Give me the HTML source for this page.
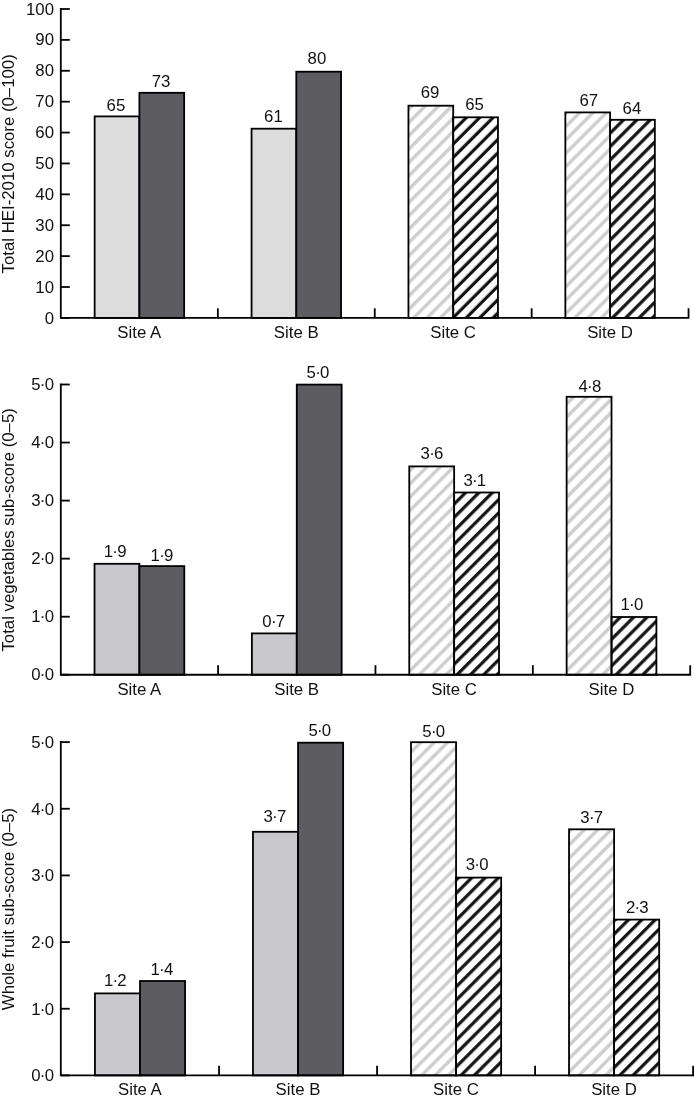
<!DOCTYPE html>
<html><head><meta charset="utf-8"><style>
html,body{margin:0;padding:0;background:#fff;}
body{width:694px;height:1099px;position:relative;overflow:hidden;}
svg text{font-family:"Liberation Sans", sans-serif;font-size:16.8px;fill:#111;}
</style></head><body>
<svg width="694" height="1099" viewBox="0 0 694 1099" style="position:absolute;left:0;top:0;will-change:transform">
<defs>
<pattern id="h0" patternUnits="userSpaceOnUse" width="9.4399" height="9.4399" patternTransform="translate(0.00,0.00) rotate(45)"><rect x="5.795" y="0" width="3.4" height="9.4399" fill="#cdcdcd"/></pattern>
<pattern id="h1" patternUnits="userSpaceOnUse" width="9.4399" height="9.4399" patternTransform="translate(0.00,0.00) rotate(45)"><rect x="5.365" y="0" width="3.2" height="9.4399" fill="#111"/></pattern>
<pattern id="h2" patternUnits="userSpaceOnUse" width="9.4399" height="9.4399" patternTransform="translate(0.00,0.00) rotate(45)"><rect x="6.432" y="0" width="3.4" height="9.4399" fill="#cdcdcd"/><rect x="-3.008" y="0" width="3.4" height="9.4399" fill="#cdcdcd"/></pattern>
<pattern id="h3" patternUnits="userSpaceOnUse" width="9.4399" height="9.4399" patternTransform="translate(0.00,0.00) rotate(45)"><rect x="4.870" y="0" width="3.2" height="9.4399" fill="#111"/></pattern>
<pattern id="h4" patternUnits="userSpaceOnUse" width="9.4399" height="9.4399" patternTransform="translate(0.00,0.00) rotate(45)"><rect x="7.280" y="0" width="3.4" height="9.4399" fill="#cdcdcd"/><rect x="-2.160" y="0" width="3.4" height="9.4399" fill="#cdcdcd"/></pattern>
<pattern id="h5" patternUnits="userSpaceOnUse" width="9.4399" height="9.4399" patternTransform="translate(0.00,0.00) rotate(45)"><rect x="5.754" y="0" width="3.2" height="9.4399" fill="#111"/></pattern>
<pattern id="h6" patternUnits="userSpaceOnUse" width="9.4399" height="9.4399" patternTransform="translate(0.00,0.00) rotate(45)"><rect x="4.841" y="0" width="3.4" height="9.4399" fill="#cdcdcd"/></pattern>
<pattern id="h7" patternUnits="userSpaceOnUse" width="9.4399" height="9.4399" patternTransform="translate(0.00,0.00) rotate(45)"><rect x="4.976" y="0" width="3.2" height="9.4399" fill="#111"/></pattern>
<pattern id="h8" patternUnits="userSpaceOnUse" width="9.4399" height="9.4399" patternTransform="translate(0.00,0.00) rotate(45)"><rect x="9.020" y="0" width="3.4" height="9.4399" fill="#cdcdcd"/><rect x="-0.420" y="0" width="3.4" height="9.4399" fill="#cdcdcd"/></pattern>
<pattern id="h9" patternUnits="userSpaceOnUse" width="9.4399" height="9.4399" patternTransform="translate(0.00,0.00) rotate(45)"><rect x="8.653" y="0" width="3.2" height="9.4399" fill="#111"/><rect x="-0.787" y="0" width="3.2" height="9.4399" fill="#111"/></pattern>
<pattern id="h10" patternUnits="userSpaceOnUse" width="9.4399" height="9.4399" patternTransform="translate(0.00,0.00) rotate(45)"><rect x="7.033" y="0" width="3.4" height="9.4399" fill="#cdcdcd"/><rect x="-2.407" y="0" width="3.4" height="9.4399" fill="#cdcdcd"/></pattern>
<pattern id="h11" patternUnits="userSpaceOnUse" width="9.4399" height="9.4399" patternTransform="translate(0.00,0.00) rotate(45)"><rect x="7.592" y="0" width="3.2" height="9.4399" fill="#111"/><rect x="-1.847" y="0" width="3.2" height="9.4399" fill="#111"/></pattern>
</defs>
<rect width="694" height="1099" fill="#fff"/>
<rect x="94.65" y="116.40" width="44.75" height="201.50" fill="#dcdcdc" stroke="#000" stroke-width="1.8"/>
<rect x="139.40" y="92.80" width="44.75" height="225.10" fill="#5d5c61" stroke="#000" stroke-width="1.8"/>
<rect x="251.55" y="128.70" width="44.75" height="189.20" fill="#dcdcdc" stroke="#000" stroke-width="1.8"/>
<rect x="296.30" y="71.70" width="44.75" height="246.20" fill="#5d5c61" stroke="#000" stroke-width="1.8"/>
<rect x="408.45" y="105.70" width="44.75" height="212.20" fill="url(#h0)" stroke="#000" stroke-width="1.8"/>
<rect x="453.20" y="117.30" width="44.75" height="200.60" fill="url(#h1)" stroke="#000" stroke-width="1.8"/>
<rect x="565.35" y="112.40" width="44.75" height="205.50" fill="url(#h2)" stroke="#000" stroke-width="1.8"/>
<rect x="610.10" y="119.80" width="44.75" height="198.10" fill="url(#h3)" stroke="#000" stroke-width="1.8"/>
<path d="M60.8,8.0 V317.9 H688.55 V308.29999999999995" fill="none" stroke="#000" stroke-width="1.8"/>
<line x1="60.8" y1="317.90" x2="69.8" y2="317.90" stroke="#000" stroke-width="1.8"/>
<text x="54" y="323.50" text-anchor="end">0</text>
<line x1="60.8" y1="287.01" x2="69.8" y2="287.01" stroke="#000" stroke-width="1.8"/>
<text x="54" y="292.61" text-anchor="end">10</text>
<line x1="60.8" y1="256.12" x2="69.8" y2="256.12" stroke="#000" stroke-width="1.8"/>
<text x="54" y="261.72" text-anchor="end">20</text>
<line x1="60.8" y1="225.23" x2="69.8" y2="225.23" stroke="#000" stroke-width="1.8"/>
<text x="54" y="230.83" text-anchor="end">30</text>
<line x1="60.8" y1="194.34" x2="69.8" y2="194.34" stroke="#000" stroke-width="1.8"/>
<text x="54" y="199.94" text-anchor="end">40</text>
<line x1="60.8" y1="163.45" x2="69.8" y2="163.45" stroke="#000" stroke-width="1.8"/>
<text x="54" y="169.05" text-anchor="end">50</text>
<line x1="60.8" y1="132.56" x2="69.8" y2="132.56" stroke="#000" stroke-width="1.8"/>
<text x="54" y="138.16" text-anchor="end">60</text>
<line x1="60.8" y1="101.67" x2="69.8" y2="101.67" stroke="#000" stroke-width="1.8"/>
<text x="54" y="107.27" text-anchor="end">70</text>
<line x1="60.8" y1="70.78" x2="69.8" y2="70.78" stroke="#000" stroke-width="1.8"/>
<text x="54" y="76.38" text-anchor="end">80</text>
<line x1="60.8" y1="39.89" x2="69.8" y2="39.89" stroke="#000" stroke-width="1.8"/>
<text x="54" y="45.49" text-anchor="end">90</text>
<line x1="60.8" y1="9.00" x2="69.8" y2="9.00" stroke="#000" stroke-width="1.8"/>
<text x="54" y="14.60" text-anchor="end">100</text>
<line x1="217.85" y1="317.9" x2="217.85" y2="308.29999999999995" stroke="#000" stroke-width="1.8"/>
<line x1="374.75" y1="317.9" x2="374.75" y2="308.29999999999995" stroke="#000" stroke-width="1.8"/>
<line x1="531.65" y1="317.9" x2="531.65" y2="308.29999999999995" stroke="#000" stroke-width="1.8"/>
<text x="139.30" y="337.5" text-anchor="middle">Site A</text>
<text x="296.20" y="337.5" text-anchor="middle">Site B</text>
<text x="453.10" y="337.5" text-anchor="middle">Site C</text>
<text x="610.00" y="337.5" text-anchor="middle">Site D</text>
<text x="115.90" y="111.30" text-anchor="middle">65</text>
<text x="161.00" y="86.90" text-anchor="middle">73</text>
<text x="273.40" y="122.30" text-anchor="middle">61</text>
<text x="316.90" y="64.40" text-anchor="middle">80</text>
<text x="430.00" y="97.70" text-anchor="middle">69</text>
<text x="474.50" y="109.80" text-anchor="middle">65</text>
<text x="588.80" y="105.80" text-anchor="middle">67</text>
<text x="631.90" y="114.00" text-anchor="middle">64</text>
<text transform="translate(14.2,163.8) rotate(-90)" text-anchor="middle">Total HEI-2010 score (0–100)</text>
<rect x="94.52" y="563.80" width="44.88" height="110.95" fill="#c9c8cc" stroke="#000" stroke-width="1.8"/>
<rect x="139.41" y="566.10" width="44.88" height="108.65" fill="#5d5c61" stroke="#000" stroke-width="1.8"/>
<rect x="251.89" y="633.40" width="44.88" height="41.35" fill="#c9c8cc" stroke="#000" stroke-width="1.8"/>
<rect x="296.77" y="384.60" width="44.88" height="290.15" fill="#5d5c61" stroke="#000" stroke-width="1.8"/>
<rect x="409.26" y="466.40" width="44.88" height="208.35" fill="url(#h4)" stroke="#000" stroke-width="1.8"/>
<rect x="454.14" y="492.50" width="44.88" height="182.25" fill="url(#h5)" stroke="#000" stroke-width="1.8"/>
<rect x="566.63" y="396.80" width="44.88" height="277.95" fill="url(#h6)" stroke="#000" stroke-width="1.8"/>
<rect x="611.52" y="617.00" width="44.88" height="57.75" fill="url(#h7)" stroke="#000" stroke-width="1.8"/>
<path d="M60.8,383.5 V674.75 H690.20 V665.15" fill="none" stroke="#000" stroke-width="1.8"/>
<line x1="60.8" y1="674.75" x2="69.8" y2="674.75" stroke="#000" stroke-width="1.8"/>
<text x="54" y="679.75" text-anchor="end">0<tspan dx="-0.75">·</tspan><tspan dx="-0.75">0</tspan></text>
<line x1="60.8" y1="616.70" x2="69.8" y2="616.70" stroke="#000" stroke-width="1.8"/>
<text x="54" y="621.70" text-anchor="end">1<tspan dx="-0.75">·</tspan><tspan dx="-0.75">0</tspan></text>
<line x1="60.8" y1="558.65" x2="69.8" y2="558.65" stroke="#000" stroke-width="1.8"/>
<text x="54" y="563.65" text-anchor="end">2<tspan dx="-0.75">·</tspan><tspan dx="-0.75">0</tspan></text>
<line x1="60.8" y1="500.60" x2="69.8" y2="500.60" stroke="#000" stroke-width="1.8"/>
<text x="54" y="505.60" text-anchor="end">3<tspan dx="-0.75">·</tspan><tspan dx="-0.75">0</tspan></text>
<line x1="60.8" y1="442.55" x2="69.8" y2="442.55" stroke="#000" stroke-width="1.8"/>
<text x="54" y="447.55" text-anchor="end">4<tspan dx="-0.75">·</tspan><tspan dx="-0.75">0</tspan></text>
<line x1="60.8" y1="384.50" x2="69.8" y2="384.50" stroke="#000" stroke-width="1.8"/>
<text x="54" y="389.50" text-anchor="end">5<tspan dx="-0.75">·</tspan><tspan dx="-0.75">0</tspan></text>
<line x1="218.09" y1="674.75" x2="218.09" y2="665.15" stroke="#000" stroke-width="1.8"/>
<line x1="375.46" y1="674.75" x2="375.46" y2="665.15" stroke="#000" stroke-width="1.8"/>
<line x1="532.83" y1="674.75" x2="532.83" y2="665.15" stroke="#000" stroke-width="1.8"/>
<text x="139.31" y="695" text-anchor="middle">Site A</text>
<text x="296.67" y="695" text-anchor="middle">Site B</text>
<text x="454.04" y="695" text-anchor="middle">Site C</text>
<text x="611.42" y="695" text-anchor="middle">Site D</text>
<text x="115.10" y="556.50" text-anchor="middle">1<tspan dx="-0.75">·</tspan><tspan dx="-0.75">9</tspan></text>
<text x="162.00" y="561.30" text-anchor="middle">1<tspan dx="-0.75">·</tspan><tspan dx="-0.75">9</tspan></text>
<text x="273.70" y="627.00" text-anchor="middle">0<tspan dx="-0.75">·</tspan><tspan dx="-0.75">7</tspan></text>
<text x="318.00" y="377.80" text-anchor="middle">5<tspan dx="-0.75">·</tspan><tspan dx="-0.75">0</tspan></text>
<text x="432.00" y="459.10" text-anchor="middle">3<tspan dx="-0.75">·</tspan><tspan dx="-0.75">6</tspan></text>
<text x="474.80" y="486.20" text-anchor="middle">3<tspan dx="-0.75">·</tspan><tspan dx="-0.75">1</tspan></text>
<text x="589.90" y="391.80" text-anchor="middle">4<tspan dx="-0.75">·</tspan><tspan dx="-0.75">8</tspan></text>
<text x="631.90" y="609.70" text-anchor="middle">1<tspan dx="-0.75">·</tspan><tspan dx="-0.75">0</tspan></text>
<text transform="translate(14.2,529.85) rotate(-90)" text-anchor="middle">Total vegetables sub-score (0–5)</text>
<rect x="94.94" y="993.40" width="45.07" height="82.00" fill="#c9c8cc" stroke="#000" stroke-width="1.8"/>
<rect x="140.01" y="981.00" width="45.07" height="94.40" fill="#5d5c61" stroke="#000" stroke-width="1.8"/>
<rect x="252.97" y="831.80" width="45.07" height="243.60" fill="#c9c8cc" stroke="#000" stroke-width="1.8"/>
<rect x="298.05" y="742.70" width="45.07" height="332.70" fill="#5d5c61" stroke="#000" stroke-width="1.8"/>
<rect x="411.00" y="742.20" width="45.07" height="333.20" fill="url(#h8)" stroke="#000" stroke-width="1.8"/>
<rect x="456.07" y="877.60" width="45.07" height="197.80" fill="url(#h9)" stroke="#000" stroke-width="1.8"/>
<rect x="569.03" y="829.30" width="45.07" height="246.10" fill="url(#h10)" stroke="#000" stroke-width="1.8"/>
<rect x="614.11" y="919.60" width="45.07" height="155.80" fill="url(#h11)" stroke="#000" stroke-width="1.8"/>
<path d="M60.8,741.1 V1075.4 H693.12 V1065.8000000000002" fill="none" stroke="#000" stroke-width="1.8"/>
<line x1="60.8" y1="1075.40" x2="69.8" y2="1075.40" stroke="#000" stroke-width="1.8"/>
<text x="54" y="1081.40" text-anchor="end">0<tspan dx="-0.75">·</tspan><tspan dx="-0.75">0</tspan></text>
<line x1="60.8" y1="1008.74" x2="69.8" y2="1008.74" stroke="#000" stroke-width="1.8"/>
<text x="54" y="1014.74" text-anchor="end">1<tspan dx="-0.75">·</tspan><tspan dx="-0.75">0</tspan></text>
<line x1="60.8" y1="942.08" x2="69.8" y2="942.08" stroke="#000" stroke-width="1.8"/>
<text x="54" y="948.08" text-anchor="end">2<tspan dx="-0.75">·</tspan><tspan dx="-0.75">0</tspan></text>
<line x1="60.8" y1="875.42" x2="69.8" y2="875.42" stroke="#000" stroke-width="1.8"/>
<text x="54" y="881.42" text-anchor="end">3<tspan dx="-0.75">·</tspan><tspan dx="-0.75">0</tspan></text>
<line x1="60.8" y1="808.76" x2="69.8" y2="808.76" stroke="#000" stroke-width="1.8"/>
<text x="54" y="814.76" text-anchor="end">4<tspan dx="-0.75">·</tspan><tspan dx="-0.75">0</tspan></text>
<line x1="60.8" y1="742.10" x2="69.8" y2="742.10" stroke="#000" stroke-width="1.8"/>
<text x="54" y="748.10" text-anchor="end">5<tspan dx="-0.75">·</tspan><tspan dx="-0.75">0</tspan></text>
<line x1="219.03" y1="1075.4" x2="219.03" y2="1065.8000000000002" stroke="#000" stroke-width="1.8"/>
<line x1="377.06" y1="1075.4" x2="377.06" y2="1065.8000000000002" stroke="#000" stroke-width="1.8"/>
<line x1="535.09" y1="1075.4" x2="535.09" y2="1065.8000000000002" stroke="#000" stroke-width="1.8"/>
<text x="139.91" y="1095.0" text-anchor="middle">Site A</text>
<text x="297.94" y="1095.0" text-anchor="middle">Site B</text>
<text x="455.97" y="1095.0" text-anchor="middle">Site C</text>
<text x="614.00" y="1095.0" text-anchor="middle">Site D</text>
<text x="115.30" y="986.10" text-anchor="middle">1<tspan dx="-0.75">·</tspan><tspan dx="-0.75">2</tspan></text>
<text x="161.90" y="974.50" text-anchor="middle">1<tspan dx="-0.75">·</tspan><tspan dx="-0.75">4</tspan></text>
<text x="274.90" y="821.80" text-anchor="middle">3<tspan dx="-0.75">·</tspan><tspan dx="-0.75">7</tspan></text>
<text x="319.80" y="735.90" text-anchor="middle">5<tspan dx="-0.75">·</tspan><tspan dx="-0.75">0</tspan></text>
<text x="433.70" y="736.80" text-anchor="middle">5<tspan dx="-0.75">·</tspan><tspan dx="-0.75">0</tspan></text>
<text x="477.10" y="870.00" text-anchor="middle">3<tspan dx="-0.75">·</tspan><tspan dx="-0.75">0</tspan></text>
<text x="591.70" y="823.10" text-anchor="middle">3<tspan dx="-0.75">·</tspan><tspan dx="-0.75">7</tspan></text>
<text x="637.30" y="913.40" text-anchor="middle">2<tspan dx="-0.75">·</tspan><tspan dx="-0.75">3</tspan></text>
<text transform="translate(14.2,909) rotate(-90)" text-anchor="middle">Whole fruit sub-score (0–5)</text>
</svg>
</body></html>
